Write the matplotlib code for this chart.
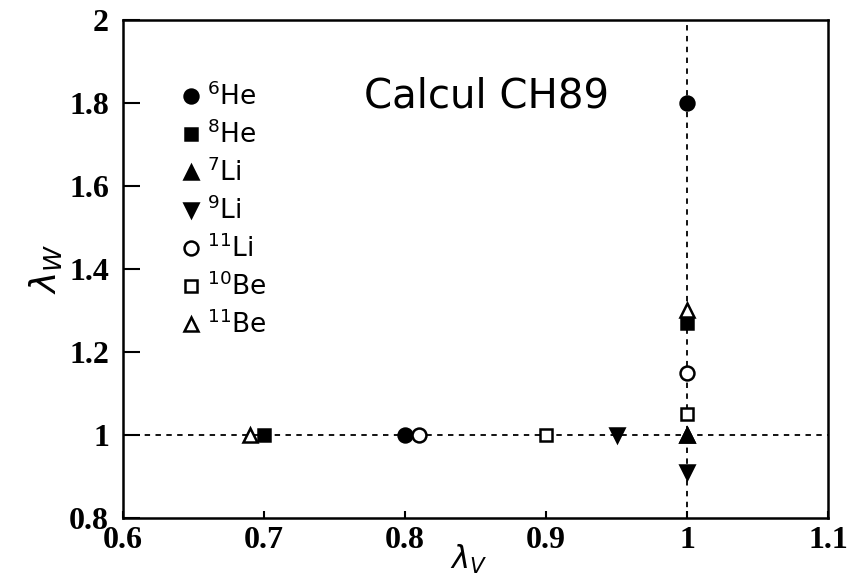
import matplotlib
matplotlib.use("Agg")
import matplotlib.pyplot as plt

# Data
nuclei = ["$^{6}$He", "$^{8}$He", "$^{7}$Li", "$^{9}$Li", "$^{11}$Li", "$^{10}$Be", "$^{11}$Be"]
lambda_v = [0.80, 0.70, 1.00, 0.95, 0.81, 0.90, 0.69]   # point on lambda_W = 1 line (x value)
lambda_w = [1.80, 1.27, 1.00, 0.91, 1.15, 1.05, 1.30]   # point on lambda_V = 1 line (y value)
markers = ["o", "s", "^", "v", "o", "s", "^"]
filled = [True, True, True, True, False, False, False]

x_ticks = [0.6, 0.7, 0.8, 0.9, 1.0, 1.1]
x_ticklabels = ["0.6", "0.7", "0.8", "0.9", "1", "1.1"]
y_ticks = [0.8, 1.0, 1.2, 1.4, 1.6, 1.8, 2.0]
y_ticklabels = ["0.8", "1", "1.2", "1.4", "1.6", "1.8", "2"]

fig = plt.figure(figsize=(8.51, 5.84), dpi=100)
ax = fig.add_axes([0.1445, 0.113, 0.8285, 0.853])

ax.axhline(1.0, color="black", ls=(0, (3, 3)), lw=1.3, zorder=1)
ax.axvline(1.0, color="black", ls=(0, (3, 3)), lw=1.3, zorder=1)

for name, xv, yw, m, f in zip(nuclei, lambda_v, lambda_w, markers, filled):
    fc = "black" if f else "white"
    ms = 10 if m in ("o", "^", "v") else 9
    ax.plot([xv, 1.0], [1.0, yw], ls="none", marker=m, ms=ms,
            mfc=fc, mec="black", mew=1.8, label=name, zorder=3)

ax.set_xlim(0.6, 1.1)
ax.set_ylim(0.8, 2.0)
ax.set_xticks(x_ticks)
ax.set_xticklabels(x_ticklabels)
ax.set_yticks(y_ticks)
ax.set_yticklabels(y_ticklabels)
ax.tick_params(axis="x", direction="in", length=5, width=1.5, pad=6)
ax.tick_params(axis="y", direction="in", length=12, width=1.5, pad=10)
for lab in ax.get_xticklabels() + ax.get_yticklabels():
    lab.set_fontfamily("Liberation Serif")
    lab.set_fontweight("bold")
    lab.set_fontsize(23)
for s in ax.spines.values():
    s.set_linewidth(1.8)

ax.set_xlabel(r"$\lambda_V$", fontsize=22, va="top")
ax.xaxis.set_label_coords(0.49, -0.05)
ax.set_ylabel(r"$\lambda_W$", fontsize=26, labelpad=4)

ax.text(0.515, 0.847, "Calcul CH89", transform=ax.transAxes, ha="center", va="center",
        fontsize=29, fontfamily="DejaVu Sans")

leg = ax.legend(loc="upper left", bbox_to_anchor=(0.07, 0.895), frameon=False,
                handlelength=0.6, handletextpad=0.3, labelspacing=0.36,
                borderaxespad=0, prop={"family": "DejaVu Sans", "size": 19},
                markerscale=1.0)

fig.savefig("out.png", dpi=100)
